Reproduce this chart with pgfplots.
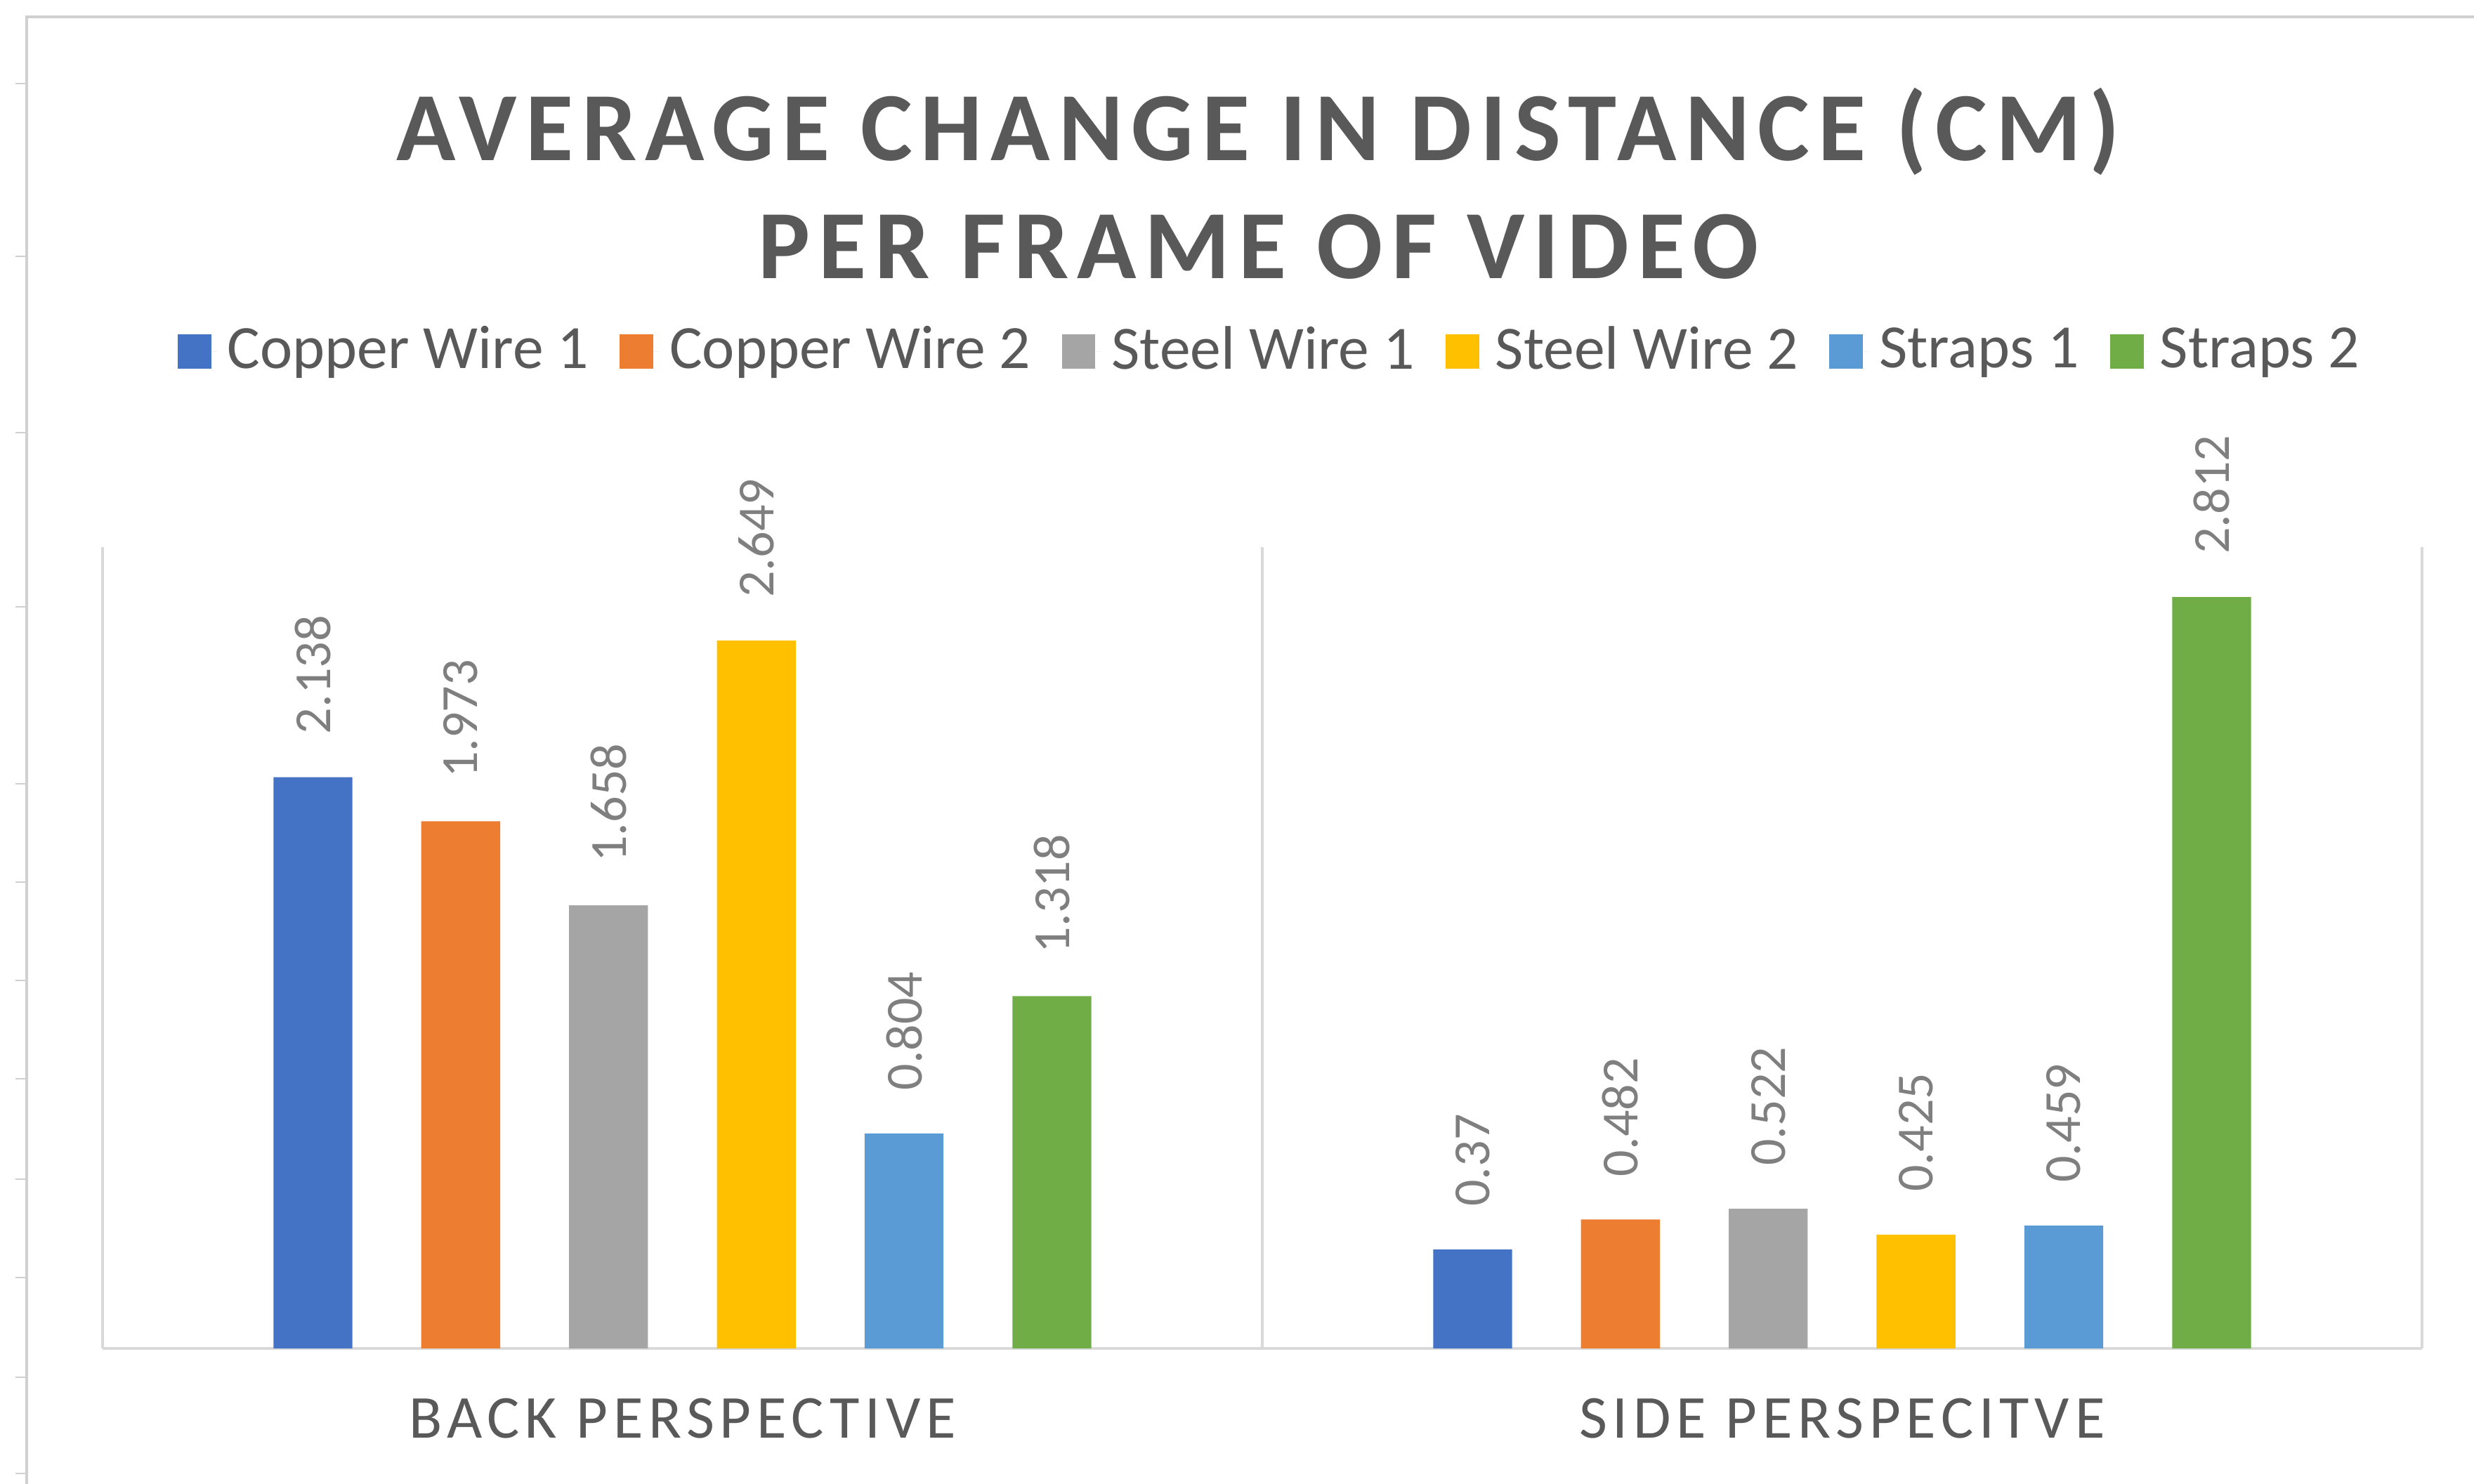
\documentclass[border=0pt]{standalone}
\usepackage{pgfplots}
\pgfplotsset{compat=1.18}
\usepackage{fontspec}
\setmainfont{Carlito}
\definecolor{c1}{HTML}{4472C4}
\definecolor{c2}{HTML}{ED7D31}
\definecolor{c3}{HTML}{A5A5A5}
\definecolor{c4}{HTML}{FFC000}
\definecolor{c5}{HTML}{5B9BD5}
\definecolor{c6}{HTML}{70AD47}
\definecolor{textgray}{HTML}{595959}
\definecolor{labelgray}{HTML}{7F7F7F}
\definecolor{gridgray}{HTML}{D9D9D9}
\definecolor{framegray}{HTML}{D0D0D0}
\begin{document}
\begin{tikzpicture}
\useasboundingbox (0pt,0pt) rectangle (470.4pt,282.2pt);
\draw[framegray, line width=0.5pt] (5.1pt,0pt) -- (5.1pt,279pt) -- (470.4pt,279pt);
\foreach \y in {266.3,233.5,199.9,166.8,133.2,114.5,95.8,77.1,58.0,39.3,20.3,2.0}
  \draw[framegray, line width=0.3pt] (2.9pt,\y pt) -- (5.1pt,\y pt);
\node[anchor=base, font=\fontsize{18.6}{22}\selectfont\bfseries\addfontfeature{LetterSpace=8.6}, text=textgray] at (239.25pt,251.7pt) {AVERAGE CHANGE IN DISTANCE (CM)};
\node[anchor=base, font=\fontsize{18.6}{22}\selectfont\bfseries\addfontfeature{LetterSpace=8.6}, text=textgray] at (239.25pt,229.2pt) {PER FRAME OF VIDEO};
\begin{axis}[
  at={(19.5pt,25.8pt)}, anchor=south west,
  scale only axis, width=441pt, height=152.4pt,
  xmin=-0.5, xmax=1.5, ymin=0, ymax=3,
  ybar=13.1pt, bar width=15pt,
  axis y line=none, axis x line*=bottom,
  axis line style={-, draw=gridgray, line width=0.6pt},
  xtick={0,1}, xticklabels={BACK PERSPECTIVE, SIDE PERSPECITVE},
  major tick length=0pt,
  xticklabel style={anchor=base, yshift=-17.1pt, text=textgray, font=\fontsize{11.6}{13}\selectfont\addfontfeature{LetterSpace=9}},
  extra x ticks={-0.5,0.5,1.5}, extra x tick labels={},
  extra x tick style={grid=major, major grid style={draw=gridgray, line width=0.5pt}},
  point meta=explicit symbolic,
  nodes near coords,
  every node near coord/.append style={rotate=90, anchor=west, inner xsep=8pt, inner ysep=0pt, text=labelgray, font=\fontsize{9.9}{11}\selectfont},
  legend columns=6,
  legend style={at={(0.505,1.244)}, anchor=center, draw=none, fill=none, text=textgray, font=\fontsize{11.7}{13}\selectfont,
    /tikz/every even column/.append style={column sep=3.9pt}},
  legend image code/.code={\fill[#1,draw=none] (0pt,-3.3pt) rectangle (6.4pt,3.3pt); \path (0pt,0pt) -- (7.5pt,0pt);},
]
\addplot[fill=c1, draw=none] coordinates {(0,2.138) [2.138] (1,0.37) [0.37]};
\addplot[fill=c2, draw=none] coordinates {(0,1.973) [1.973] (1,0.482) [0.482]};
\addplot[fill=c3, draw=none] coordinates {(0,1.658) [1.658] (1,0.522) [0.522]};
\addplot[fill=c4, draw=none] coordinates {(0,2.649) [2.649] (1,0.425) [0.425]};
\addplot[fill=c5, draw=none] coordinates {(0,0.804) [0.804] (1,0.459) [0.459]};
\addplot[fill=c6, draw=none] coordinates {(0,1.318) [1.318] (1,2.812) [2.812]};
\legend{Copper Wire 1, Copper Wire 2, Steel Wire 1, Steel Wire 2, Straps 1, Straps 2}
\end{axis}
\end{tikzpicture}
\end{document}
